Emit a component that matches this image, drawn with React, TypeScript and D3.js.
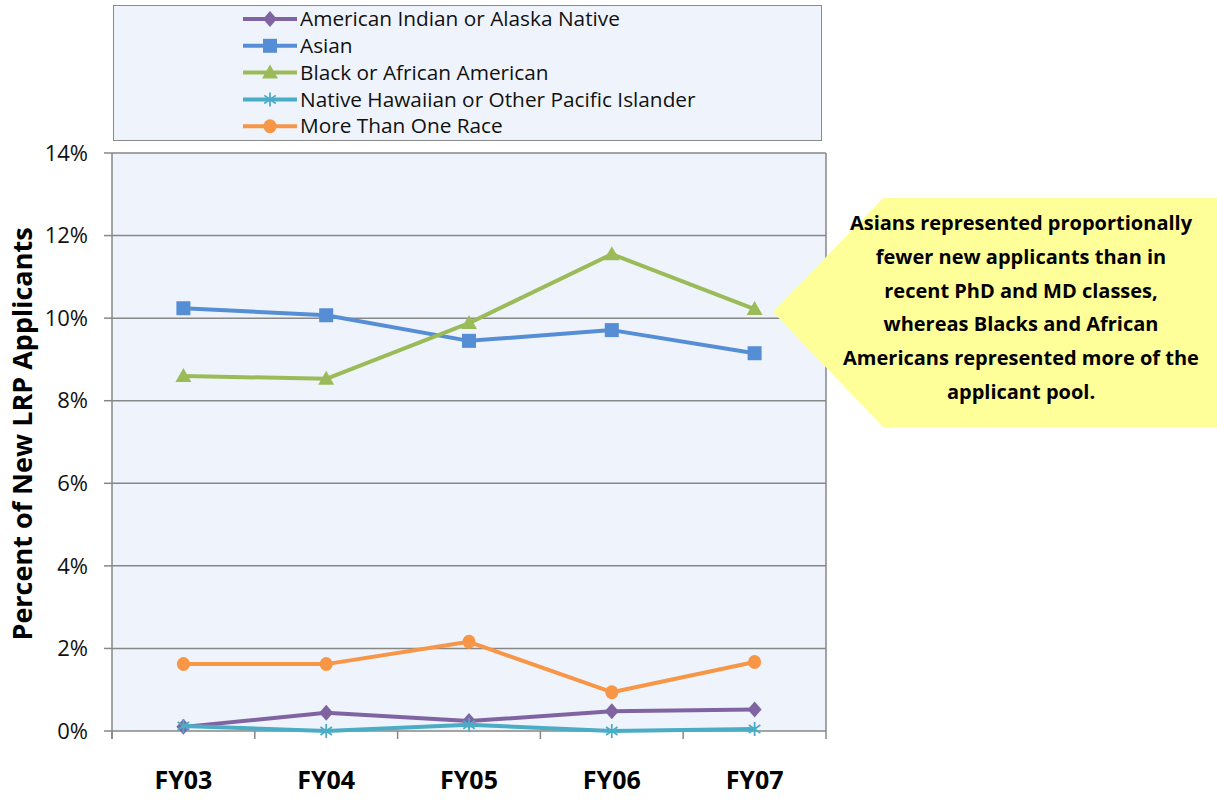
import React from "react";
import * as d3 from "d3";

const categories = ["FY03", "FY04", "FY05", "FY06", "FY07"];
const seriesNames = [
  "American Indian or Alaska Native",
  "Asian",
  "Black or African American",
  "Native Hawaiian or Other Pacific Islander",
  "More Than One Race",
];
const aian = [0.1, 0.44, 0.24, 0.48, 0.52];
const asian = [10.24, 10.07, 9.45, 9.71, 9.15];
const black = [8.6, 8.53, 9.88, 11.55, 10.22];
const nhpi = [0.12, 0.0, 0.15, 0.0, 0.05];
const multi = [1.62, 1.62, 2.16, 0.94, 1.67];
const yTicks = [0, 2, 4, 6, 8, 10, 12, 14];
const calloutLines = [
  "Asians represented proportionally",
  "fewer new applicants than in",
  "recent PhD and MD classes,",
  "whereas Blacks and African",
  "Americans represented more of the",
  "applicant pool.",
];

const colors = ["#8064A2", "#558ED5", "#9BBB59", "#4BACC6", "#F79646"];
const markers = ["diamond", "square", "triangle", "star", "circle"];
const seriesData = [aian, asian, black, nhpi, multi];

const FONT = "'Open Sans', sans-serif";

function Marker({ type, x, y, color }: { type: string; x: number; y: number; color: string }) {
  if (type === "diamond") {
    return <path d={`M${x},${y - 8}L${x + 7},${y}L${x},${y + 8}L${x - 7},${y}Z`} fill={color} />;
  }
  if (type === "square") {
    return <rect x={x - 7} y={y - 7} width={14} height={14} fill={color} />;
  }
  if (type === "triangle") {
    return <path d={`M${x},${y - 8}L${x + 8},${y + 6}L${x - 8},${y + 6}Z`} fill={color} />;
  }
  if (type === "circle") {
    return <ellipse cx={x} cy={y} rx={6.5} ry={7} fill={color} />;
  }
  const r = 7;
  const lines = [0, 55, 125].map((a) => {
    const rad = (a * Math.PI) / 180;
    return `M${x + r * Math.sin(rad)},${y - r * Math.cos(rad)}L${x - r * Math.sin(rad)},${y + r * Math.cos(rad)}`;
  });
  return <path d={lines.join("")} stroke={color} strokeWidth={1.8} fill="none" />;
}

export default function App() {
  const left = 112;
  const right = 826;
  const top = 153;
  const bottom = 731;
  const x = d3.scaleBand<string>().domain(categories).range([left, right]);
  const y = d3.scaleLinear().domain([0, 14]).range([bottom, top]);
  const cx = (i: number) => (x(categories[i]) as number) + x.bandwidth() / 2;
  const line = d3
    .line<number>()
    .x((_, i) => cx(i))
    .y((d) => y(d));

  const tickXs = [...categories.map((c) => x(c) as number), right];

  return (
    <svg width={1217} height={803} style={{ position: "absolute", left: 0, top: 0 }} fontFamily={FONT}>
      <rect x={0} y={0} width={1217} height={803} fill="#fff" />
      {/* legend */}
      <rect x={113.5} y={5.5} width={708} height={135} fill="#EFF4FC" stroke="#8a8a8a" strokeWidth={1} />
      {seriesNames.map((n, i) => {
        const ly = 19 + i * 26.8;
        return (
          <g key={n}>
            <line x1={243} x2={297} y1={ly} y2={ly} stroke={colors[i]} strokeWidth={4} />
            <Marker type={markers[i]} x={270} y={ly} color={colors[i]} />
            <text x={300} y={ly} dy="0.35em" fontSize={20.8} fill="#111">
              {n}
            </text>
          </g>
        );
      })}
      {/* plot area */}
      <rect x={left} y={top} width={right - left} height={bottom - top} fill="#EFF4FC" />
      {yTicks.map((t) => (
        <g key={t}>
          <line x1={left} x2={right} y1={y(t)} y2={y(t)} stroke="#878787" strokeWidth={1.5} />
          <line x1={left - 8} x2={left} y1={y(t)} y2={y(t)} stroke="#878787" strokeWidth={1.5} />
          <text x={88} y={y(t)} dy="0.35em" textAnchor="end" fontSize={22} fill="#111">
            {t}%
          </text>
        </g>
      ))}
      <line x1={left} x2={left} y1={top} y2={bottom + 8} stroke="#878787" strokeWidth={1.5} />
      <line x1={right} x2={right} y1={top} y2={bottom} stroke="#878787" strokeWidth={1.5} />
      {tickXs.map((tx, i) => (
        <line key={i} x1={tx} x2={tx} y1={bottom} y2={bottom + 8} stroke="#878787" strokeWidth={1.5} />
      ))}
      {categories.map((c, i) => (
        <text key={c} x={cx(i)} y={789} textAnchor="middle" fontSize={25} fontWeight="bold" fill="#000">
          {c}
        </text>
      ))}
      <text
        transform={`translate(32,${(top + bottom) / 2 - 8}) rotate(-90)`}
        textAnchor="middle"
        fontSize={27}
        fontWeight="bold"
        fill="#000"
      >
        Percent of New LRP Applicants
      </text>
      {/* series */}
      {seriesData.map((data, si) => (
        <g key={si}>
          <path d={line(data) || ""} fill="none" stroke={colors[si]} strokeWidth={4} strokeLinejoin="round" />
          {data.map((v, i) => (
            <Marker key={i} type={markers[si]} x={cx(i)} y={y(v)} color={colors[si]} />
          ))}
        </g>
      ))}
      {/* callout */}
      <path d="M773,312L883,198L1217,198L1217,427L883,427Z" fill="#FFFF99" />
      {calloutLines.map((l, i) => (
        <text key={i} x={1021} y={223 + i * 33.8} dy="0.35em" textAnchor="middle" fontSize={20} fontWeight="bold" fill="#000">
          {l}
        </text>
      ))}
    </svg>
  );
}
